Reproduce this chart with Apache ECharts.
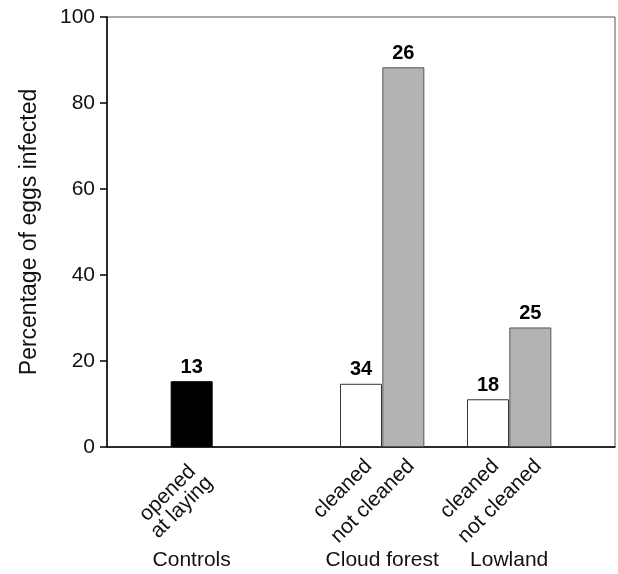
<!DOCTYPE html>
<html>
<head>
<meta charset="utf-8">
<script src="https://cdn.jsdelivr.net/npm/echarts@6/dist/echarts.min.js"></script>
<style>
  html, body { margin: 0; padding: 0; background: #fff; }
  #chart { width: 618px; height: 574px; }
</style>
</head>
<body>
<div id="chart"></div>
<script>
// bar positions on a 0..12 slot scale
const barPositions = [2, 6, 7, 9, 10];
const barLabels = ['opened\nat laying', 'cleaned', 'not cleaned', 'cleaned', 'not cleaned'];
const percentInfected = [15.3, 14.7, 88.3, 11.1, 27.8];
const sampleSizes = [13, 34, 26, 18, 25];
const treatments = ['control', 'cleaned', 'notCleaned', 'cleaned', 'notCleaned'];

const groupNames = ['Controls', 'Cloud forest', 'Lowland'];
const groupCenters = [2, 6.5, 9.5];

const yTicks = [0, 20, 40, 60, 80, 100];

const FONT = '"Liberation Sans", Arial, sans-serif';
const fills = { control: '#000000', cleaned: '#ffffff', notCleaned: '#b3b3b3' };
const borders = { control: '#000000', cleaned: '#333333', notCleaned: '#555555' };

const barData = barPositions.map((x, i) => ({
  value: [x, percentInfected[i]],
  n: sampleSizes[i],
  itemStyle: { color: fills[treatments[i]], borderColor: borders[treatments[i]], borderWidth: 1 },
}));

function lookup(positions, labels) {
  return (v) => {
    const idx = positions.findIndex((p) => Math.abs(p - v) < 1e-6);
    return idx < 0 ? '' : labels[idx];
  };
}
const barLabelFor = lookup(barPositions, barLabels);
const groupLabelFor = lookup(groupCenters, groupNames);

const chart = echarts.init(document.getElementById('chart'));
chart.setOption({
  animation: false,
  backgroundColor: '#ffffff',
  textStyle: { fontFamily: FONT },
  grid: {
    left: 107,
    right: 2,
    top: 17,
    bottom: 127,
    show: true,
    borderColor: '#555555',
    borderWidth: 1,
    backgroundColor: 'transparent',
  },
  xAxis: [
    {
      type: 'value',
      min: 0,
      max: 12,
      interval: 1,
      axisLine: { show: true, lineStyle: { color: '#000', width: 1.5 } },
      axisTick: { show: false },
      splitLine: { show: false },
      axisLabel: {
        rotate: 45,
        margin: 8,
        verticalAlign: 'top',
        fontSize: 21,
        color: '#111',
        fontFamily: FONT,
        lineHeight: 22,
        formatter: (v) => {
          const s = barLabelFor(v);
          if (s.indexOf('\n') < 0) return s;
          return s.split('\n').map((line) => '{c|' + line + '}').join('\n');
        },
        rich: {
          c: { width: 88, align: 'center', fontSize: 21, fontFamily: FONT, color: '#111', lineHeight: 20 },
        },
      },
    },
    {
      type: 'value',
      min: 0,
      max: 12,
      interval: 0.5,
      position: 'bottom',
      offset: 95,
      axisLine: { show: false },
      axisTick: { show: false },
      splitLine: { show: false },
      axisLabel: {
        margin: 8,
        fontSize: 21,
        color: '#111',
        fontFamily: FONT,
        formatter: groupLabelFor,
      },
    },
  ],
  yAxis: {
    type: 'value',
    min: yTicks[0],
    max: yTicks[yTicks.length - 1],
    interval: yTicks[1] - yTicks[0],
    name: 'Percentage of eggs infected',
    nameLocation: 'middle',
    nameGap: 66,
    nameTextStyle: { fontSize: 23, color: '#111', fontFamily: FONT },
    axisLine: { show: true, lineStyle: { color: '#000', width: 1.5 } },
    axisTick: { show: true, length: 7, lineStyle: { color: '#000', width: 1.5 } },
    splitLine: { show: false },
    axisLabel: { margin: 12, fontSize: 21, color: '#111', fontFamily: FONT },
  },
  series: [
    {
      type: 'bar',
      xAxisIndex: 0,
      barWidth: 42,
      data: barData,
      label: {
        show: true,
        position: 'top',
        distance: 4,
        fontSize: 20,
        fontWeight: 'bold',
        color: '#000',
        fontFamily: FONT,
        formatter: (p) => String(p.data.n),
      },
    },
  ],
});
</script>
</body>
</html>
